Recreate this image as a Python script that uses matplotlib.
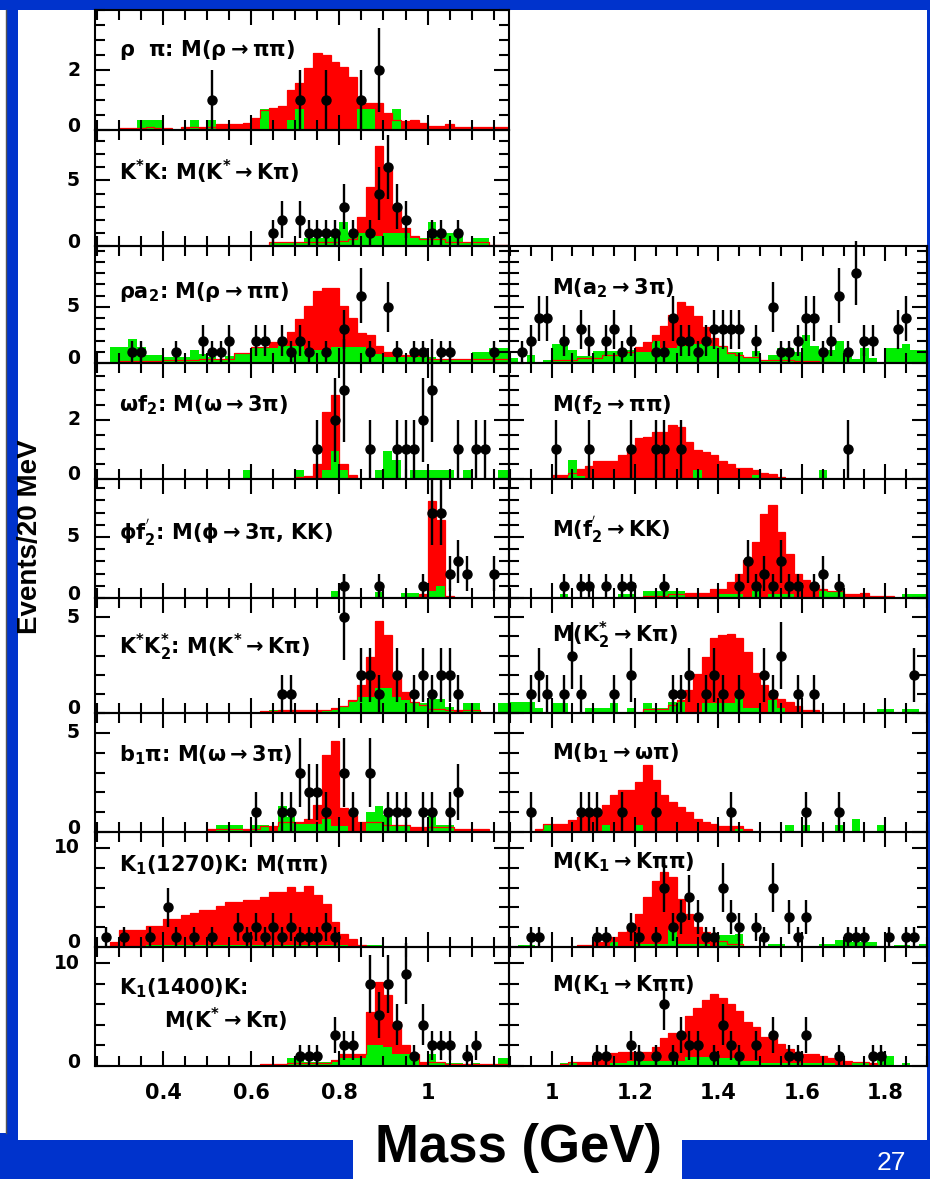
import numpy as np
import matplotlib
matplotlib.use('agg')
import matplotlib.pyplot as plt
from matplotlib.patches import Rectangle
from matplotlib.ticker import MultipleLocator
from matplotlib.transforms import blended_transform_factory, ScaledTranslation

plt.rcParams['font.family'] = ['DejaVu Sans']
plt.rcParams['font.weight'] = 'bold'
plt.rcParams['mathtext.fontset'] = 'dejavusans'
plt.rcParams['mathtext.default'] = 'rm'

W, H = 930, 1179
RED = '#ff0000'
GREEN = '#00ee00'
BLUE = '#0033cc'

# 20 MeV bins
left_edges = np.round(np.arange(0.24, 1.2001, 0.02), 3)    # 48 bins
right_edges = np.round(np.arange(0.90, 1.9001, 0.02), 3)   # 50 bins

# ---------------- left column ----------------
rhopi_red = [0, 0, 0, .06, .06, .06, .1, .06, .06, 0,
             .1, .1, .1, .1, .19, .19, .19, .25, .39, .66,
             .74, .8, 1.33, 1.56, 2.06, 2.56, 2.5, 2.28, 2.1, 1.78,
             .89, .89, .89, .56, .35, .3, .33, .22, .14, .14,
             .19, .11, .11, .11, .11, .11, .11, .11]
rhopi_green = [0, 0, 0, 0, 0, .33, .33, .33, 0, 0,
               0, .33, 0, .33, 0, 0, 0, 0, 0, .69,
               0, 0, .33, .69, 0, 0, 0, 0, 0, 0,
               .69, .69, 0, 0, .69, 0, 0, 0, 0, 0,
               0, 0, 0, 0, 0, 0, 0, 0]
rhopi_x = [0.51, 0.71, 0.77, 0.85, 0.89]
rhopi_n = [1, 1, 1, 1, 2]

kstk_red = [0, 0, 0, 0, 0, 0, 0, 0, 0, 0,
            0, 0, 0, 0, 0, 0, 0, 0, 0, 0,
            .3, .3, .3, .3, .3, .3, .3, .3, .4, .5,
            2.2, 4.5, 7.6, 6.0, 2.8, 1.4, .8, .5, .5, .5,
            .3, .3, .3, .3, .3, .1, .1, .1]
kstk_green = [0, 0, 0, 0, 0, 0, 0, 0, 0, 0,
              0, 0, 0, 0, 0, 0, 0, 0, 0, 0,
              .33, .33, .33, .33, .6, .6, .6, 1.0, 1.8, 1.0,
              1.0, 1.0, .8, 1.0, 1.0, 1.0, .6, .6, 1.8, 1.0,
              1.0, 1.0, .3, .6, .6, 0, 0, 0]
kstk_x = [0.65, 0.67, 0.71, 0.73, 0.75, 0.77, 0.79, 0.81, 0.83, 0.87, 0.89,
          0.91, 0.93, 0.95, 1.01, 1.03, 1.07]
kstk_n = [1, 2, 2, 1, 1, 1, 1, 3, 1, 1, 4, 6, 3, 2, 1, 1, 1]

rhoa2_red = [0, 0, 0, .2, .2, .2, .2, .2, .3, .3,
             .3, .3, .4, .4, .4, .4, .9, .9, 1.4, 1.4,
             1.9, 1.9, 2.8, 3.9, 5.1, 6.4, 6.7, 6.7, 5.1, 4.0,
             2.7, 2.5, 1.5, 1.0, 1.0, .7, .7, .7, .4, .4,
             .4, .4, .4, .4, .4, .4, .4, .4]
rhoa2_green = [0, 0, 1.4, 1.4, 2.1, 1.4, .7, .7, .5, .5,
               .5, 1.2, .8, .5, .4, .6, .8, .8, 1.3, 1.3,
               1.3, 1.5, 1.5, 1.5, 1.2, 1.2, 1.2, 1.4, 1.4, 1.4,
               1.4, .8, .8, .5, .5, .5, .5, .5, .5, .3,
               .3, .3, .3, 1.0, 1.0, 1.3, 1.3, 1.3]
rhoa2_x = [0.33, 0.35, 0.43, 0.49, 0.51, 0.53, 0.55, 0.61, 0.63, 0.67, 0.69, 0.71,
           0.73, 0.77, 0.81, 0.85, 0.87, 0.91, 0.93, 0.97, 0.99, 1.03, 1.05, 1.15]
rhoa2_n = [1, 1, 1, 2, 1, 1, 2, 2, 2, 2, 1, 2, 1, 1, 3, 6, 1, 5, 1, 1, 1, 1, 1, 1]

omf2_red = [0, 0, 0, 0, 0, 0, 0, 0, 0, 0,
            0, 0, 0, 0, 0, 0, 0, 0, 0, 0,
            0, 0, 0, .08, .1, .5, 2.26, 2.85, .5, .14,
            0, 0, 0, 0, 0, 0, 0, 0, 0, 0,
            0, 0, 0, 0, 0, 0, 0, 0]
omf2_green = [0, 0, 0, 0, 0, 0, 0, 0, 0, 0,
              0, 0, 0, 0, 0, 0, 0, .3, 0, 0,
              0, 0, 0, .3, 0, 0, .3, .95, .3, 0,
              0, 0, .3, .95, .64, 0, .3, .3, .3, .3,
              .3, 0, .3, 0, 0, 0, .3, .3]
omf2_x = [0.75, 0.79, 0.81, 0.87, 0.93, 0.95, 0.97, 0.99, 1.01, 1.07, 1.11, 1.13]
omf2_n = [1, 2, 3, 1, 1, 1, 1, 2, 3, 1, 1, 1]

phif2_red = [0, 0, 0, 0, 0, 0, 0, 0, 0, 0,
             0, 0, 0, 0, 0, 0, 0, 0, 0, 0,
             0, 0, 0, 0, 0, 0, 0, 0, 0, 0,
             0, 0, 0, 0, 0, 0, 0, .36, 7.95, 6.4,
             .2, 0, 0, 0, 0, 0, 0, 0]
phif2_green = [0, 0, 0, 0, 0, 0, 0, 0, 0, 0,
               0, 0, 0, 0, 0, 0, 0, 0, 0, 0,
               0, 0, 0, 0, 0, 0, 0, .57, 0, 0,
               0, 0, .5, 0, 0, .44, .44, 0, .6, .96,
               .2, 0, 0, 0, 0, 0, 0, 0]
phif2_x = [0.81, 0.89, 0.99, 1.01, 1.03, 1.05, 1.07, 1.09, 1.15]
phif2_n = [1, 1, 1, 7, 7, 2, 3, 2, 2]

kstk2_red = [0, 0, 0, 0, 0, 0, 0, 0, 0, 0,
             0, 0, 0, 0, 0, 0, 0, 0, 0, .1,
             .1, .14, .14, .14, .14, .14, .14, .25, .35, .7,
             1.45, 2.9, 4.8, 4.05, 1.96, 1.1, .57, .4, .23, .23,
             .14, .14, .14, .14, 0, 0, 0, 0]
kstk2_green = [0, 0, 0, 0, 0, 0, 0, 0, 0, 0,
               0, 0, 0, 0, 0, 0, 0, 0, 0, 0,
               .17, 0, 0, 0, 0, 0, .17, .17, .3, .57,
               .83, .83, 1.3, 1.3, .83, .66, .5, .5, .75, .75,
               .3, 0, .54, .54, 0, 0, .54, .54]
kstk2_x = [0.67, 0.69, 0.81, 0.85, 0.87, 0.89, 0.93, 0.97, 0.99, 1.01, 1.03, 1.05, 1.07]
kstk2_n = [1, 1, 5, 2, 2, 1, 2, 1, 2, 1, 2, 2, 1]

b1pi_red = [0, 0, 0, 0, 0, 0, 0, 0, 0, 0,
            0, 0, 0, .15, .15, .15, .15, .15, .15, .3,
            .3, .5, .5, .5, .67, 1.35, 3.87, 4.6, 1.23, .84,
            .5, .5, .5, .34, .34, .34, .25, .25, .25, .25,
            .25, .13, .13, .13, .13, 0, 0, 0]
b1pi_green = [0, 0, 0, 0, 0, 0, 0, 0, 0, 0,
              0, 0, 0, 0, .34, .34, .34, 0, .34, .34,
              0, 1.3, .76, .39, .39, .39, .67, .3, .3, 0,
              0, 1.0, 1.3, .84, .34, .34, 0, 0, .84, .34,
              .34, 0, 0, 0, 0, 0, 0, 0]
b1pi_x = [0.61, 0.67, 0.69, 0.71, 0.73, 0.75, 0.77, 0.81, 0.83, 0.87, 0.91, 0.93,
          0.95, 0.99, 1.01, 1.05, 1.07]
b1pi_n = [1, 1, 1, 3, 2, 2, 1, 3, 1, 3, 1, 1, 1, 1, 1, 1, 2]

k1270_red = [0, 0, .5, 1.7, 1.7, 1.7, 2.1, 2.1, 2.8, 2.8,
             3.2, 3.4, 3.7, 3.7, 4.1, 4.5, 4.5, 4.7, 4.7, 5.05,
             5.5, 5.5, 6.1, 5.5, 6.2, 5.2, 4.3, 2.5, 1.35, .84,
             .17, 0, 0, 0, 0, 0, 0, 0, 0, 0,
             0, 0, 0, 0, 0, 0, 0, 0]
k1270_green = [0, 0, 0, 0, 0, 0, .17, .17, .17, .17,
               .17, .17, .17, .17, .17, .17, .17, .17, .17, .17,
               .17, .17, .17, .17, .17, .17, .17, .17, .17, 0,
               0, .17, .17, 0, 0, 0, 0, 0, 0, 0,
               0, 0, 0, 0, 0, 0, 0, 0]
k1270_x = [0.27, 0.31, 0.37, 0.41, 0.43, 0.47, 0.51, 0.57, 0.59, 0.61, 0.63, 0.65,
           0.67, 0.69, 0.71, 0.73, 0.75, 0.77, 0.79]
k1270_n = [1, 1, 1, 4, 1, 1, 1, 2, 1, 2, 1, 2, 1, 2, 1, 1, 1, 2, 1]

k1400_red = [0, 0, 0, 0, 0, 0, 0, 0, 0, 0,
             0, 0, 0, 0, 0, 0, 0, 0, 0, .2,
             .2, .2, .3, .3, .3, .3, .3, .6, 1.2, 1.2,
             1.2, 5.3, 8.2, 6.9, 4.3, 2.0, 1.2, .4, .4, .4,
             .2, .2, .2, .2, .2, .2, .2, 0]
k1400_green = [0, 0, 0, 0, 0, 0, 0, 0, 0, 0,
               0, 0, 0, 0, 0, 0, 0, 0, 0, 0,
               0, 0, .74, .74, .4, .4, .4, .4, .74, .74,
               .74, 2.04, 2.04, 1.9, 1.2, 1.2, .74, 0, 1.2, .3,
               .3, .3, 0, .3, 0, 0, .74, .74]
k1400_x = [0.71, 0.73, 0.75, 0.79, 0.81, 0.83, 0.87, 0.89, 0.91, 0.93, 0.95, 0.97,
           0.99, 1.01, 1.03, 1.05, 1.09, 1.11]
k1400_n = [1, 1, 1, 3, 2, 2, 8, 5, 8, 4, 9, 1, 4, 2, 2, 2, 1, 2]

# ---------------- right column ----------------
a2_red = [0, 0, 0, 0, 0, .24, .24, .24, .45, .45,
          .45, .7, .7, .95, .95, 1.4, 1.9, 2.5, 3.3, 4.3,
          5.4, 5.1, 4.2, 3.2, 2.2, 1.5, .9, .74, .54, .54,
          .3, .3, .24, .24, .15, .15, .15, .1, .1, 0,
          0, 0, 0, 0, 0, 0, 0, 0, 0, 0]
a2_green = [.45, 0, .74, 0, .3, 1.7, 1.7, 1.2, .6, .6,
            1.1, 1.1, 1.1, .74, 1.2, .95, .95, 2.0, 1.3, 1.3,
            1.5, 1.5, 1.7, 1.7, 1.5, 1.5, .95, .95, .45, 1.1,
            .3, .74, 1.3, 1.3, .95, 2.5, 1.5, 1.2, 1.2, 2.0,
            1.2, .36, 1.3, .45, .1, 1.3, 1.3, 1.7, 1.2, 1.2]
a2_x = [0.93, 0.95, 0.97, 0.99, 1.03, 1.07, 1.09, 1.13, 1.15, 1.17, 1.19, 1.25, 1.27,
        1.29, 1.31, 1.33, 1.35, 1.37, 1.39, 1.41, 1.43, 1.45, 1.49, 1.53, 1.55, 1.57,
        1.59, 1.61, 1.63, 1.65, 1.67, 1.69, 1.71, 1.73, 1.75, 1.77, 1.83, 1.85]
a2_n = [1, 2, 4, 4, 2, 3, 2, 2, 3, 1, 2, 1, 1, 4, 2, 2, 1, 2, 3, 3, 3, 3, 2, 5, 1, 1,
        2, 4, 4, 1, 2, 6, 1, 8, 2, 2, 3, 4]

f2_red = [0, 0, 0, 0, 0, .14, .14, .2, .33, .44,
          .6, .6, .6, .8, 1.1, 1.38, 1.43, 1.6, 1.6, 1.83,
          1.77, 1.27, .98, .93, .8, .62, .5, .36, .36, .3,
          .22, .16, .08, 0, 0, 0, 0, 0, 0, 0,
          0, 0, 0, 0, 0, 0, 0, 0, 0, 0]
f2_green = [0, 0, 0, 0, 0, 0, 0, .64, .1, 0,
            0, 0, 0, 0, 0, 0, 0, 0, 0, 0,
            0, 0, .3, 0, 0, 0, 0, 0, 0, .14,
            0, 0, 0, 0, 0, 0, 0, .3, 0, 0,
            0, 0, 0, 0, 0, 0, 0, 0, 0, 0]
f2_x = [1.01, 1.09, 1.19, 1.25, 1.27, 1.31, 1.71]
f2_n = [1, 1, 1, 1, 1, 1, 1]

f2p_red = [0, 0, 0, 0, 0, 0, 0, 0, 0, 0,
           0, 0, 0, 0, 0, 0, .2, .2, .2, .3,
           .3, .4, .4, .4, .76, .76, 1.3, 2.0, 3.14, 4.6,
           6.9, 7.65, 5.4, 3.6, 2.0, 1.45, 1.04, .76, .57, .57,
           .3, .3, .4, .2, .2, .2, 0, 0, 0, 0]
f2p_green = [0, 0, 0, 0, 0, 0, .36, 0, 0, 0,
             0, 0, 0, .36, .36, 0, .57, .57, .57, .57,
             .57, 0, 0, 0, 0, .36, .36, .36, 0, .57,
             0, .36, .36, .36, 0, 0, 0, .57, .57, .57,
             0, 0, 0, 0, 0, 0, 0, .36, .36, .36]
f2p_x = [1.03, 1.07, 1.09, 1.13, 1.17, 1.19, 1.27, 1.45, 1.47, 1.49, 1.51, 1.53,
         1.55, 1.57, 1.59, 1.63, 1.65, 1.69]
f2p_n = [1, 1, 1, 1, 1, 1, 1, 1, 3, 1, 2, 1, 3, 1, 1, 1, 2, 1]

k2_red = [0, 0, 0, 0, 0, 0, 0, 0, 0, 0,
          0, 0, 0, 0, 0, 0, .23, .23, .23, .4,
          .66, 1.2, 2.05, 2.9, 3.9, 4.05, 4.13, 3.9, 3.2, 2.1,
          1.44, 1.15, .75, .6, .35, .17, .17, 0, 0, 0,
          0, 0, 0, 0, 0, 0, 0, 0, 0, 0]
k2_green = [.57, .57, .57, .28, 0, .54, .54, 0, 0, .28,
            .28, .28, .54, 0, .28, 0, .54, .28, .28, .57,
            .57, 0, 0, .54, .54, .54, .54, 1.1, .28, .28,
            0, .66, .28, 0, 0, 0, 0, 0, 0, 0,
            0, 0, 0, 0, .2, .2, 0, .2, .2, 0]
k2_x = [0.95, 0.97, 0.99, 1.03, 1.05, 1.07, 1.15, 1.19, 1.29, 1.31, 1.33, 1.37,
        1.39, 1.41, 1.45, 1.51, 1.53, 1.55, 1.59, 1.63, 1.87]
k2_n = [1, 2, 1, 1, 3, 1, 1, 2, 1, 1, 2, 1, 2, 1, 1, 2, 1, 3, 1, 1, 2]

b1_red = [0, 0, 0, .17, .39, .42, .42, .6, .76, .93,
          .93, 1.35, 1.85, 2.14, 2.14, 2.5, 3.37, 2.6, 1.85, 1.5,
          1.26, 1.0, .67, .5, .39, .29, .29, .29, .13, 0,
          0, 0, 0, 0, 0, 0, 0, 0, 0, 0,
          0, 0, 0, 0, 0, 0, 0, 0, 0, 0]
b1_green = [0, 0, 0, 0, .34, 0, 0, 0, 0, 0,
            0, .34, 0, 0, 0, .34, 0, 0, 0, 0,
            0, 0, 0, 0, 0, 0, 0, .17, 0, 0,
            0, 0, 0, .34, 0, .34, 0, 0, 0, .34,
            0, .67, 0, 0, .34, 0, 0, 0, 0, 0]
b1_x = [0.95, 1.07, 1.09, 1.11, 1.17, 1.25, 1.43, 1.61, 1.69]
b1_n = [1, 1, 1, 1, 1, 1, 1, 1, 1]

k1a_red = [0, 0, 0, 0, 0, 0, 0, 0, .17, .17,
           .5, .5, 1.0, 1.5, 1.9, 3.37, 5.05, 6.7, 7.6, 7.1,
           4.8, 3.37, 2.0, 1.5, 1.0, .6, .34, .34, 0, 0,
           0, 0, 0, 0, 0, 0, 0, 0, 0, 0,
           0, 0, 0, 0, 0, 0, 0, 0, 0, 0]
k1a_green = [0, .17, .17, 0, 0, 0, 0, 0, 0, 0,
             0, 0, .5, 0, 0, .34, .34, .34, .34, 1.7,
             .34, .34, .34, .34, 0, 1.2, 1.2, 1.35, 0, 0,
             0, .34, .34, 0, 0, 0, 0, .3, .3, .67,
             .67, .5, .5, .5, 0, 0, .17, .17, 0, .34]
k1a_x = [0.95, 0.97, 1.11, 1.13, 1.19, 1.21, 1.25, 1.27, 1.29, 1.31, 1.33, 1.35,
         1.37, 1.39, 1.41, 1.43, 1.45, 1.49, 1.51, 1.53, 1.57, 1.59, 1.61, 1.71,
         1.73, 1.75, 1.81, 1.85, 1.87]
k1a_n = [1, 1, 1, 1, 2, 1, 1, 6, 2, 3, 5, 3, 1, 1, 6, 3, 2, 2, 1, 6, 3, 1, 3, 1,
         1, 1, 1, 1, 1]

k1b_red = [0, 0, 0, 0, 0, 0, .2, .4, .4, .4,
           .74, .74, 1.23, 1.4, 1.4, 1.4, 1.4, 1.9, 2.7, 3.2,
           3.2, 4.85, 5.7, 6.4, 7.0, 6.6, 6.0, 5.4, 4.3, 3.8,
           2.85, 2.85, 2.1, 1.7, 1.4, 1.17, 1.17, 1.0, .74, .74,
           .5, .4, .4, .26, 0, 0, 0, 0, 0, 0]
k1b_green = [0, 0, 0, 0, 0, 0, .26, .26, 0, 0,
             0, 0, .26, .26, .5, .5, .5, .5, .5, .5,
             .5, .9, .9, .9, .74, .74, .74, .74, .5, .5,
             .3, .3, .3, .3, .26, .26, .26, .26, .26, 0,
             0, .4, .4, 0, 1.0, 1.0, 0, .26, 0, 0]
k1b_x = [1.11, 1.13, 1.19, 1.21, 1.25, 1.27, 1.29, 1.31, 1.33, 1.35, 1.39, 1.41,
         1.43, 1.45, 1.49, 1.53, 1.57, 1.59, 1.61, 1.69, 1.77, 1.79]
k1b_n = [1, 1, 2, 1, 1, 6, 1, 3, 2, 2, 1, 4, 2, 1, 2, 3, 1, 1, 3, 1, 1, 1]

row_y = [10, 130, 246, 363, 479, 598, 713, 832, 947, 1066]
row_ylim = [4.0, 8.85, 10.4, 3.93, 9.75, 6.0, 6.0, 11.6, 11.6]
row_major = [2, 5, 5, 2, 5, 5, 5, 10, 10]
row_minor = [0.5, 1, 1, 0.5, 1, 1, 1, 2, 2]

left_labels = [r"$\rho\ \ \pi$: M($\rho\rightarrow\pi\pi$)",
               r"K$^{*}$K: M(K$^{*}\rightarrow$K$\pi$)",
               r"$\rho$a$_{2}$: M($\rho\rightarrow\pi\pi$)",
               r"$\omega$f$_{2}$: M($\omega\rightarrow$3$\pi$)",
               r"$\phi$f$_{2}^{'}$: M($\phi\rightarrow$3$\pi$, KK)",
               r"K$^{*}$K$_{2}^{*}$: M(K$^{*}\rightarrow$K$\pi$)",
               r"b$_{1}\pi$: M($\omega\rightarrow$3$\pi$)",
               r"K$_{1}$(1270)K: M($\pi\pi$)",
               r"K$_{1}$(1400)K:"]
right_labels = [r"M(a$_{2}\rightarrow$3$\pi$)",
                r"M(f$_{2}\rightarrow\pi\pi$)",
                r"M(f$_{2}^{'}\rightarrow$KK)",
                r"M(K$_{2}^{*}\rightarrow$K$\pi$)",
                r"M(b$_{1}\rightarrow\omega\pi$)",
                r"M(K$_{1}\rightarrow$K$\pi\pi$)",
                r"M(K$_{1}\rightarrow$K$\pi\pi$)"]
left_label_y = [50, 172, 292, 405, 533, 647, 755, 865, 988]
right_label_y = [288, 405, 530, 635, 753, 862, 985]

left_data = [(rhopi_red, rhopi_green, rhopi_x, rhopi_n),
             (kstk_red, kstk_green, kstk_x, kstk_n),
             (rhoa2_red, rhoa2_green, rhoa2_x, rhoa2_n),
             (omf2_red, omf2_green, omf2_x, omf2_n),
             (phif2_red, phif2_green, phif2_x, phif2_n),
             (kstk2_red, kstk2_green, kstk2_x, kstk2_n),
             (b1pi_red, b1pi_green, b1pi_x, b1pi_n),
             (k1270_red, k1270_green, k1270_x, k1270_n),
             (k1400_red, k1400_green, k1400_x, k1400_n)]
right_data = [(a2_red, a2_green, a2_x, a2_n),
              (f2_red, f2_green, f2_x, f2_n),
              (f2p_red, f2p_green, f2p_x, f2p_n),
              (k2_red, k2_green, k2_x, k2_n),
              (b1_red, b1_green, b1_x, b1_n),
              (k1a_red, k1a_green, k1a_x, k1a_n),
              (k1b_red, k1b_green, k1b_x, k1b_n)]

fig = plt.figure(figsize=(W / 100, H / 100), dpi=100)


def box(x0, y0, x1, y1, color):
    fig.patches.append(Rectangle((x0 / W, 1 - y1 / H), (x1 - x0) / W, (y1 - y0) / H,
                                 transform=fig.transFigure, facecolor=color,
                                 edgecolor='none', zorder=-10))


def fpos(x, y):
    return x / W, 1 - y / H


# slide background
box(0, 0, W, H, BLUE)
box(18, 10, 927, 1140, 'white')
box(353, 1140, 682, H, 'white')
box(0, 10, 7, 1133, 'white')
fig.add_artist(plt.Line2D([6 / W, 6 / W], [1 - 1133 / H, 1 - 10 / H], color='#555555',
                          lw=1, transform=fig.transFigure))


def panel(x0, x1, row, edges, data, xlim, xmaj, xlab, show_y):
    red, green, xs, ns = data
    y0, y1 = row_y[row], row_y[row + 1]
    ax = fig.add_axes([x0 / W, 1 - y1 / H, (x1 - x0) / W, (y1 - y0) / H])
    ax.set_facecolor('none')
    ax.stairs(red, edges, fill=True, color=RED, lw=0)
    ax.stairs(green, edges, fill=True, color=GREEN, lw=0)
    ax.stairs(red, edges, color=RED, lw=0.9)
    ns = np.array(ns, dtype=float)
    eb = ax.errorbar(xs, ns, yerr=np.sqrt(ns), xerr=0.006, fmt='o', ms=6.5,
                     color='black', lw=1.7, capsize=0)
    for a in eb.get_children():
        a.set_clip_on(False)
    ax.set_xlim(*xlim)
    ax.set_ylim(0, row_ylim[row])
    ax.set_xticks(xmaj)
    ax.xaxis.set_minor_locator(MultipleLocator(0.05))
    ax.set_yticks([0, row_major[row]])
    ax.yaxis.set_minor_locator(MultipleLocator(row_minor[row]))
    ax.tick_params(which='both', direction='in', top=True, right=True,
                   width=1.5, color='black', labelsize=15, labelleft=False)
    ax.tick_params(which='major', length=11)
    ax.tick_params(which='minor', length=7)
    ax.tick_params(axis='x', pad=12)
    if show_y:
        # y labels drawn by hand so the "0" sits just above the panel edge
        tr = blended_transform_factory(ax.transAxes, ax.transData)
        for val, dy in ((0, 4), (row_major[row], 0)):
            off = ScaledTranslation(0, dy / 100, fig.dpi_scale_trans)
            ax.text(-15 / (x1 - x0), val, str(val), transform=tr + off,
                    ha='right', va='center', fontsize=13.5, fontweight='heavy')
    if row == 8:
        ax.set_xticklabels(xlab)
    else:
        ax.tick_params(labelbottom=False)
    for s in ax.spines.values():
        s.set_linewidth(1.5)
    return ax


for r in range(9):
    panel(95, 509, r, left_edges, left_data[r], (0.245, 1.185),
          [0.4, 0.6, 0.8, 1.0], ['0.4', '0.6', '0.8', '1'], True)
    fig.text(*fpos(119, left_label_y[r]), left_labels[r], fontsize=15,
             ha='left', va='center', fontweight='bold')
fig.text(*fpos(164, 1020), r"M(K$^{*}\rightarrow$K$\pi$)", fontsize=15,
         ha='left', va='center', fontweight='bold')

for r in range(2, 9):
    panel(509, 927, r, right_edges, right_data[r - 2], (0.898, 1.9),
          [1.0, 1.2, 1.4, 1.6, 1.8], ['1', '1.2', '1.4', '1.6', '1.8'], False)
    fig.text(*fpos(552, right_label_y[r - 2]), right_labels[r - 2], fontsize=15,
             ha='left', va='center', fontweight='bold')

fig.text(*fpos(30, 537), 'Events/20 MeV', rotation=90, fontsize=20,
         ha='center', va='center', fontweight='bold', family='Liberation Sans')
fig.text(*fpos(518, 1148), 'Mass (GeV)', fontsize=38, ha='center', va='center',
         fontweight='bold', family='Liberation Sans')
fig.text(*fpos(891, 1170), '27', fontsize=19, ha='center', va='baseline',
         color='white', fontweight='normal', family='Liberation Sans')

fig.savefig('out.png', dpi=100)
